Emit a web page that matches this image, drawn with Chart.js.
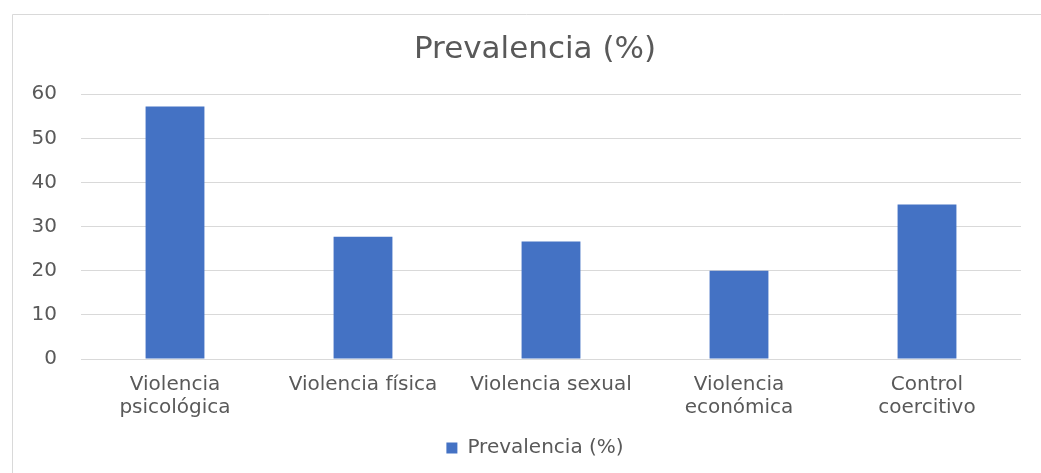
<!DOCTYPE html>
<html>
<head>
<meta charset="utf-8">
<script src="https://cdn.jsdelivr.net/npm/chart.js@4.4.0/dist/chart.umd.min.js"></script>
<style>
	html, body { margin: 0; padding: 0; background: #fff; overflow: hidden; }
	#wrap { position: absolute; left: 0; top: 0; width: 1041px; height: 473px; }
</style>
</head>
<body>
<div id="wrap"><canvas id="chart"></canvas></div>
<script>
const categories = [
	["Violencia", "psicológica"],
	"Violencia física",
	"Violencia sexual",
	["Violencia", "económica"],
	["Control", "coercitivo"],
];
const prevalence = [57.2, 27.7, 26.6, 20.0, 35.0];
const seriesName = "Prevalencia (%)";
const chartTitle = "Prevalencia (%)";

const textColor = "#595959";
const fontFamily = "'DejaVu Sans', sans-serif";

// title and legend are centred on the outer frame, not on the canvas
const shiftBlocks = {
	id: "shiftBlocks",
	afterLayout(chart) {
		if (chart.titleBlock) chart.titleBlock.left = 49;
		if (chart.legend) chart.legend.left = 49;
	},
	beforeDraw(chart) {
		// outer chart frame: only its top and left edges are in view
		const ctx = chart.ctx;
		ctx.save();
		ctx.strokeStyle = "#d9d9d9";
		ctx.lineWidth = 1;
		ctx.beginPath();
		ctx.moveTo(12.5, chart.height);
		ctx.lineTo(12.5, 14.5);
		ctx.lineTo(chart.width, 14.5);
		ctx.stroke();
		ctx.restore();
	},
};

const context = document.getElementById("chart").getContext("2d");
const chart = new Chart(context, {
	type: "bar",
	data: {
		labels: categories,
		datasets: [
			{
				label: seriesName,
				data: prevalence,
				backgroundColor: "#4472c4",
				borderWidth: 0,
				barPercentage: 0.313,
				categoryPercentage: 1,
			},
		],
	},
	options: {
		responsive: true,
		maintainAspectRatio: false,
		animation: false,
		layout: {
			padding: { left: 0, right: 20, top: 0, bottom: 5 },
		},
		scales: {
			x: {
				grid: { display: false },
				border: { display: false },
				ticks: {
					color: textColor,
					padding: 6,
					maxRotation: 0,
					autoSkip: false,
					font: { family: fontFamily, size: 20, lineHeight: 1.15 },
				},
				afterFit: function (scale) {
					scale.height = 69;
				},
			},
			y: {
				min: 0,
				max: 60,
				ticks: {
					stepSize: 10,
					color: textColor,
					padding: 24,
					font: { family: fontFamily, size: 20 },
				},
				grid: {
					color: "#d9d9d9",
					lineWidth: 1,
					drawTicks: false,
				},
				border: { display: false },
				afterFit: function (scale) {
					scale.width = 81;
				},
			},
		},
		plugins: {
			title: {
				display: true,
				text: chartTitle,
				color: textColor,
				font: { family: fontFamily, size: 31, weight: "normal", lineHeight: 1.2 },
				padding: { top: 31, bottom: 26 },
			},
			legend: {
				position: "bottom",
				labels: {
					color: textColor,
					boxWidth: 11,
					boxHeight: 11,
					padding: 10,
					font: { family: fontFamily, size: 20 },
				},
			},
			tooltip: { enabled: false },
		},
	},
	plugins: [shiftBlocks],
});
</script>
</body>
</html>
